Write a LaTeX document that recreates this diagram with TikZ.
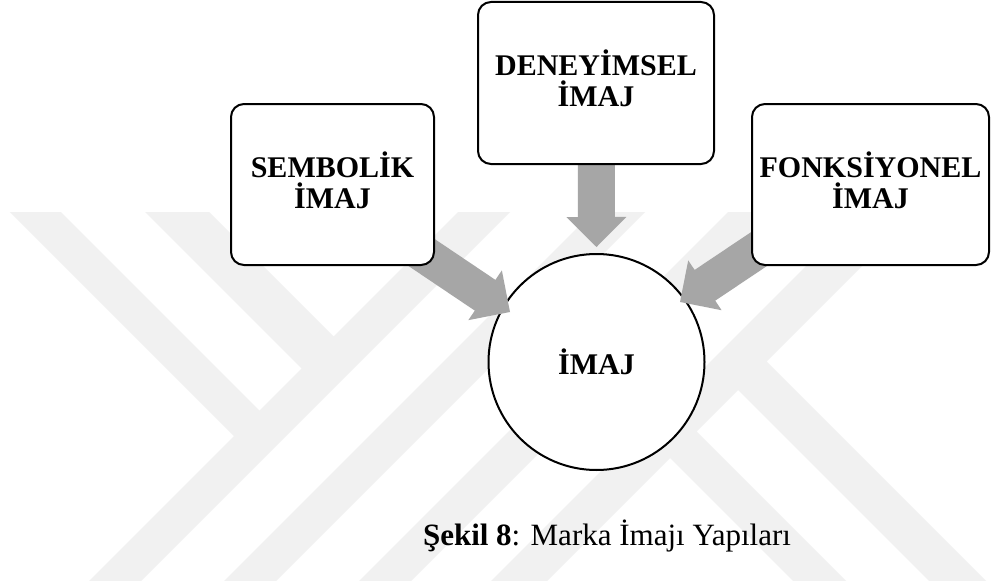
\documentclass[tikz,border=0pt]{standalone}
\usepackage{fontspec}
\setmainfont{Liberation Serif}
\usetikzlibrary{calc}
\definecolor{arrowgray}{RGB}{166,166,166}
\definecolor{wmgray}{RGB}{241,241,241}
\pgfdeclarelayer{wm}
\pgfdeclarelayer{hublayer}
\pgfdeclarelayer{arrowlayer}
\pgfsetlayers{wm,hublayer,arrowlayer,main}
% block arrow: #1 tail coordinate, #2 tip coordinate, #3 name of head-base coordinate
\newcommand\blockarrow[3]{%
  \coordinate (#3) at ($(#2)!30pt!(#1)$);
  \fill[arrowgray]
    ($(#1)!18.5pt!90:(#2)$) -- ($(#3)!18.5pt!90:(#2)$) -- ($(#3)!30pt!90:(#2)$) --
    (#2) --
    ($(#3)!30pt!-90:(#2)$) -- ($(#3)!18.5pt!-90:(#2)$) -- ($(#1)!18.5pt!-90:(#2)$) -- cycle;
}
\begin{document}
\begin{tikzpicture}[x=1pt,y=-1pt,
  card/.style={draw, line width=2pt, rounded corners=13pt, fill=white, align=center,
    inner sep=0pt, text depth=9pt, font=\fontsize{30}{31}\selectfont\bfseries},
  hub/.style={draw, circle, line width=2pt, fill=white, inner sep=0pt, minimum size=216pt,
    font=\fontsize{30}{31}\selectfont\bfseries},
  caption/.style={anchor=base, inner sep=0pt, font=\fontsize{31}{37}\selectfont},
  stripe/.style={fill=wmgray}
]
\useasboundingbox (0,0) rectangle (991,586);

% ---------- watermark ----------
\begin{pgfonlayer}{wm}
\fill[white] (0,0) rectangle (991,586);
\begin{scope}
  \clip (0,212) rectangle (991,580);
  % "/" stripes
  \foreach \a/\b in {670/722, 805/857, 940/992, 1072/1128}{
    \fill[stripe] (\a-200,200) -- (\b-200,200) -- (\b-590,590) -- (\a-590,590) -- cycle;
  }
  % "\" stripes on the upper left
  \fill[stripe] (49,200) -- (269.5,420.5) -- (244,446) -- (-2,200) -- cycle;
  \fill[stripe] (197,200) -- (343.5,346.5) -- (311.5,378.5) -- (133,200) -- cycle;
  % "\" stripes on the lower right
  \fill[stripe] (757.5,352.5) -- (995,590) -- (938,590) -- (729,381) -- cycle;
  \fill[stripe] (687.5,422.5) -- (855,590) -- (802,590) -- (661,449) -- cycle;
\end{scope}
\end{pgfonlayer}

% ---------- central circle ----------
\begin{pgfonlayer}{hublayer}
\node[hub] (img) at (596.5,362) {İMAJ};
\end{pgfonlayer}

% ---------- boxes ----------
\node[card, minimum width=203pt, minimum height=161pt] (sem) at (332.5,184.5) {SEMBOLİK\\İMAJ};
\node[card, minimum width=236pt, minimum height=162pt] (den) at (596,83) {DENEYİMSEL\\İMAJ};
\node[card, minimum width=237pt, minimum height=161pt] (fon) at (870.5,184.5) {FONKSİYONEL\\İMAJ};

% ---------- arrows ----------
\coordinate (semTail) at ($(sem.south east)+(-35,-28)$);
\coordinate (denTail) at (den.center);
\coordinate (fonTail) at ($(fon.south west)+(29,-31)$);
\coordinate (tipL) at ($(img.center)+(-86.5,-50)$);
\coordinate (tipT) at ($(img.center)+(0,-115)$);
\coordinate (tipR) at ($(img.center)+(83.5,-60)$);
\begin{pgfonlayer}{arrowlayer}
\blockarrow{semTail}{tipL}{baseL}
\blockarrow{denTail}{tipT}{baseT}
\blockarrow{fonTail}{tipR}{baseR}
\end{pgfonlayer}

% ---------- caption ----------
\node[caption] (cap) at (607,545) {\textbf{Şekil 8}: Marka İmajı Yapıları};
\end{tikzpicture}
\end{document}
